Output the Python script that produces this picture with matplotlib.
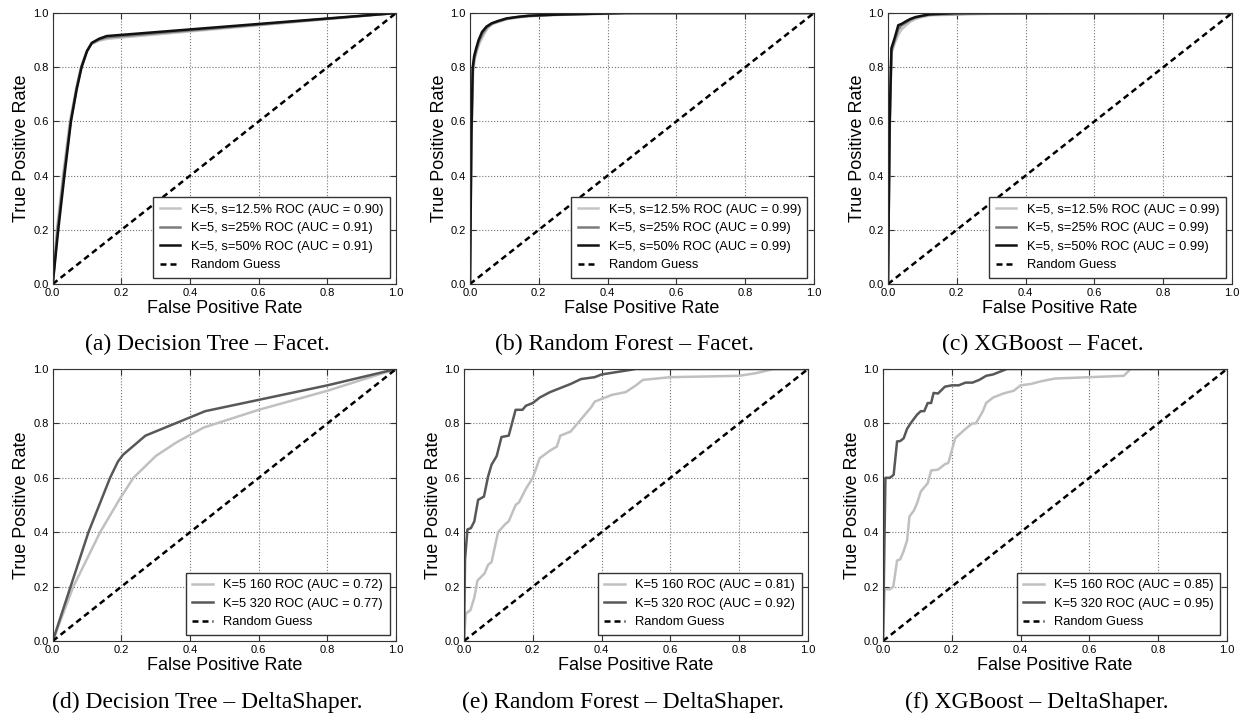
import matplotlib
matplotlib.use('Agg')
import matplotlib.pyplot as plt

plt.rcParams['font.family'] = ['Liberation Sans', 'DejaVu Sans']

# --- Facet (top row): three sampling rates ---
labels_facet = ['K=5, s=12.5% ROC', 'K=5, s=25% ROC', 'K=5, s=50% ROC']

dt_f_auc = [0.90, 0.91, 0.91]
dt_f_fpr = [
    [0, 0.012, 0.03, 0.05, 0.068, 0.082, 0.098, 0.112, 0.135, 0.16, 1.0],
    [0, 0.014, 0.032, 0.052, 0.069, 0.083, 0.099, 0.113, 0.135, 0.158, 1.0],
    [0, 0.016, 0.034, 0.053, 0.07, 0.084, 0.1, 0.114, 0.135, 0.157, 1.0],
]
dt_f_tpr = [
    [0, 0.2, 0.4, 0.6, 0.72, 0.8, 0.855, 0.885, 0.898, 0.905, 1.0],
    [0, 0.2, 0.4, 0.6, 0.72, 0.8, 0.858, 0.888, 0.902, 0.91, 1.0],
    [0, 0.2, 0.4, 0.6, 0.72, 0.8, 0.86, 0.89, 0.905, 0.915, 1.0],
]

rf_f_auc = [0.99, 0.99, 0.99]
rf_f_fpr = [
    [0, 0.004, 0.009, 0.014, 0.02, 0.028, 0.04, 0.052, 0.066, 0.085, 0.11, 0.14, 0.18, 0.26, 0.5, 1.0],
    [0, 0.004, 0.008, 0.013, 0.019, 0.026, 0.037, 0.05, 0.064, 0.082, 0.108, 0.14, 0.17, 0.25, 0.45, 1.0],
    [0, 0.004, 0.008, 0.012, 0.018, 0.025, 0.035, 0.048, 0.063, 0.08, 0.106, 0.14, 0.17, 0.25, 0.45, 1.0],
]
rf_f_tpr = [
    [0, 0.5, 0.78, 0.83, 0.86, 0.89, 0.92, 0.945, 0.96, 0.968, 0.978, 0.984, 0.988, 0.993, 1.0, 1.0],
    [0, 0.52, 0.79, 0.835, 0.865, 0.895, 0.925, 0.948, 0.961, 0.969, 0.979, 0.985, 0.989, 0.994, 1.0, 1.0],
    [0, 0.55, 0.8, 0.84, 0.87, 0.9, 0.93, 0.95, 0.962, 0.97, 0.98, 0.986, 0.99, 0.994, 1.0, 1.0],
]

xgb_f_auc = [0.99, 0.99, 0.99]
xgb_f_fpr = [
    [0, 0.005, 0.01, 0.02, 0.03, 0.04, 0.053, 0.065, 0.08, 0.1, 0.13, 0.3, 0.79, 1.0],
    [0, 0.005, 0.01, 0.02, 0.03, 0.04, 0.053, 0.065, 0.08, 0.1, 0.12, 0.26, 0.5, 1.0],
    [0, 0.005, 0.01, 0.02, 0.03, 0.04, 0.053, 0.065, 0.08, 0.1, 0.12, 0.2, 0.5, 1.0],
]
xgb_f_tpr = [
    [0, 0.55, 0.85, 0.89, 0.92, 0.94, 0.955, 0.968, 0.978, 0.986, 0.992, 0.997, 1.0, 1.0],
    [0, 0.58, 0.86, 0.9, 0.94, 0.955, 0.965, 0.975, 0.983, 0.989, 0.994, 0.998, 1.0, 1.0],
    [0, 0.6, 0.87, 0.91, 0.955, 0.96, 0.97, 0.978, 0.985, 0.99, 0.995, 1.0, 1.0, 1.0],
]

# --- DeltaShaper (bottom row): two configurations ---
labels_delta = ['K=5 160 ROC', 'K=5 320 ROC']

dt_d_auc = [0.72, 0.77]
dt_d_fpr = [
    [0, 0.06, 0.138, 0.194, 0.235, 0.3, 0.36, 0.44, 0.6, 0.8, 1.0],
    [0, 0.104, 0.167, 0.19, 0.205, 0.27, 0.444, 0.8, 1.0],
]
dt_d_tpr = [
    [0, 0.2, 0.4, 0.52, 0.6, 0.68, 0.73, 0.785, 0.85, 0.92, 1.0],
    [0, 0.4, 0.6, 0.66, 0.685, 0.755, 0.845, 0.94, 1.0],
]

rf_d_auc = [0.81, 0.92]
rf_d_fpr = [
    [0, 0.005, 0.019, 0.03, 0.039, 0.06, 0.07, 0.08, 0.099, 0.12, 0.13, 0.15, 0.16,
     0.18, 0.2, 0.22, 0.25, 0.27, 0.28, 0.31, 0.33, 0.35, 0.37, 0.38, 0.41, 0.43,
     0.47, 0.5, 0.52, 0.6, 0.8, 0.85, 0.9, 1.0],
    [0, 0.003, 0.01, 0.02, 0.03, 0.041, 0.058, 0.07, 0.08, 0.095, 0.109, 0.13, 0.15,
     0.17, 0.18, 0.2, 0.22, 0.25, 0.28, 0.31, 0.34, 0.38, 0.4, 0.45, 0.5, 1.0],
]
rf_d_tpr = [
    [0, 0.1, 0.114, 0.16, 0.222, 0.249, 0.28, 0.29, 0.4, 0.43, 0.44, 0.5, 0.51,
     0.56, 0.6, 0.672, 0.7, 0.715, 0.755, 0.77, 0.8, 0.83, 0.86, 0.88, 0.895, 0.905,
     0.915, 0.94, 0.96, 0.97, 0.975, 0.985, 1.0, 1.0],
    [0, 0.3, 0.41, 0.415, 0.44, 0.519, 0.531, 0.605, 0.648, 0.68, 0.75, 0.755, 0.85,
     0.85, 0.865, 0.875, 0.895, 0.915, 0.93, 0.945, 0.963, 0.97, 0.98, 0.99, 1.0, 1.0],
]

xgb_d_auc = [0.85, 0.95]
xgb_d_fpr = [
    [0, 0.005, 0.02, 0.03, 0.041, 0.05, 0.06, 0.07, 0.077, 0.09, 0.1, 0.11, 0.13,
     0.14, 0.16, 0.18, 0.19, 0.2, 0.21, 0.24, 0.26, 0.27, 0.29, 0.3, 0.32, 0.35,
     0.38, 0.4, 0.43, 0.46, 0.5, 0.6, 0.7, 0.72, 1.0],
    [0, 0.007, 0.02, 0.031, 0.041, 0.05, 0.06, 0.07, 0.08, 0.099, 0.11, 0.12, 0.13,
     0.14, 0.147, 0.16, 0.18, 0.2, 0.22, 0.24, 0.26, 0.28, 0.3, 0.32, 0.34, 0.36, 1.0],
]
xgb_d_tpr = [
    [0, 0.19, 0.19, 0.2, 0.296, 0.3, 0.33, 0.37, 0.458, 0.48, 0.51, 0.55, 0.58,
     0.627, 0.63, 0.65, 0.655, 0.7, 0.746, 0.78, 0.8, 0.8, 0.844, 0.875, 0.895, 0.91,
     0.92, 0.94, 0.945, 0.955, 0.965, 0.97, 0.975, 1.0, 1.0],
    [0, 0.6, 0.6, 0.611, 0.734, 0.735, 0.745, 0.78, 0.8, 0.832, 0.845, 0.845, 0.875,
     0.875, 0.912, 0.91, 0.935, 0.94, 0.94, 0.95, 0.95, 0.96, 0.975, 0.98, 0.99, 1.0, 1.0],
]

captions = [
    '(a) Decision Tree \u2013 Facet.', '(b) Random Forest \u2013 Facet.', '(c) XGBoost \u2013 Facet.',
    '(d) Decision Tree \u2013 DeltaShaper.', '(e) Random Forest \u2013 DeltaShaper.',
    '(f) XGBoost \u2013 DeltaShaper.',
]

colors_facet = ['#c4c4c4', '#7c7c7c', '#111111']
colors_delta = ['#c0c0c0', '#585858']

fig = plt.figure(figsize=(12.44, 7.15), dpi=100)

# axes rectangles [left, bottom, width, height]
rects = [
    [0.0424, 0.6028, 0.2760, 0.3790],
    [0.3778, 0.6028, 0.2765, 0.3790],
    [0.7138, 0.6028, 0.2766, 0.3790],
    [0.0424, 0.1035, 0.2760, 0.3804],
    [0.3730, 0.1035, 0.2765, 0.3804],
    [0.7098, 0.1035, 0.2765, 0.3804],
]
caption_pos = [(207, 344), (624, 344), (1043, 344), (207, 702), (623, 702), (1037, 702)]

panels = [
    (dt_f_fpr, dt_f_tpr, dt_f_auc, labels_facet, colors_facet),
    (rf_f_fpr, rf_f_tpr, rf_f_auc, labels_facet, colors_facet),
    (xgb_f_fpr, xgb_f_tpr, xgb_f_auc, labels_facet, colors_facet),
    (dt_d_fpr, dt_d_tpr, dt_d_auc, labels_delta, colors_delta),
    (rf_d_fpr, rf_d_tpr, rf_d_auc, labels_delta, colors_delta),
    (xgb_d_fpr, xgb_d_tpr, xgb_d_auc, labels_delta, colors_delta),
]

for i, (fprs, tprs, aucs, labs, cols) in enumerate(panels):
    ax = fig.add_axes(rects[i])
    for fpr, tpr, auc, lab, c in zip(fprs, tprs, aucs, labs, cols):
        ax.plot(fpr, tpr, color=c, lw=1.8, label='%s (AUC = %.2f)' % (lab, auc))
    ax.plot([0, 1], [0, 1], color='k', linestyle=(0, (2.4, 1.6)), lw=1.8,
            label='Random Guess')
    ax.set_xlim(0, 1)
    ax.set_ylim(0, 1)
    ax.set_xlabel('False Positive Rate', fontsize=13, labelpad=1)
    ax.set_ylabel('True Positive Rate', fontsize=13, labelpad=2)
    ax.grid(True, linestyle=':', color='0.45', lw=0.8)
    ax.tick_params(direction='in', top=True, right=True, labelsize=8, length=4,
                   color='0.2', pad=3)
    for s in ax.spines.values():
        s.set_color('0.2')
    leg = ax.legend(loc='lower right', fontsize=9.3, fancybox=False, handlelength=1.6,
                    borderpad=0.5, framealpha=1)
    leg.get_frame().set_edgecolor('0.2')
    leg.get_frame().set_linewidth(1.0)
    cx, cy = caption_pos[i]
    fig.text(cx / 1244, 1 - cy / 715, captions[i], ha='center', va='center',
             family='Liberation Serif', fontsize=17)

fig.savefig('out.png', dpi=100)
